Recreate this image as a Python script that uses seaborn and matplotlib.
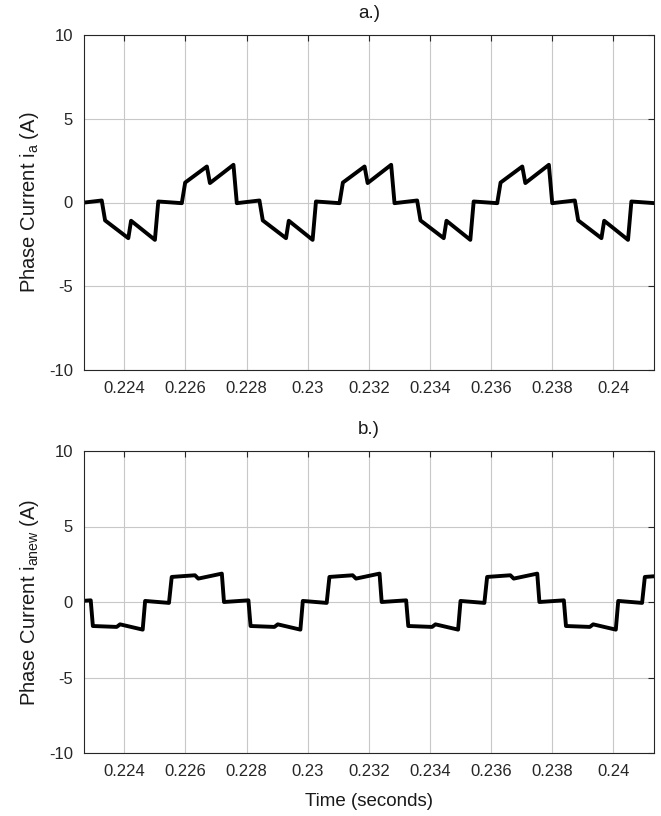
import matplotlib
matplotlib.use("Agg")
import matplotlib.pyplot as plt
import seaborn as sns
import pandas as pd

# ---- data ----
t_a = [0.22252, 0.22326, 0.22337, 0.22413, 0.22422, 0.22500, 0.22511, 0.22588, 0.22599, 0.22670, 0.22680, 0.22757, 0.22768,
       0.22842, 0.22853, 0.22929, 0.22938, 0.23016, 0.23027, 0.23104, 0.23115, 0.23186, 0.23196, 0.23273, 0.23284,
       0.23358, 0.23369, 0.23445, 0.23454, 0.23532, 0.23543, 0.23620, 0.23631, 0.23702, 0.23712, 0.23789, 0.23800,
       0.23874, 0.23885, 0.23961, 0.23970, 0.24048, 0.24059, 0.24136]
i_a = [-0.04, 0.12, -1.07, -2.13, -1.09, -2.23, 0.06, -0.04, 1.19, 2.15, 1.16, 2.25, -0.04,
       0.12, -1.07, -2.13, -1.09, -2.23, 0.06, -0.04, 1.19, 2.15, 1.16, 2.25, -0.04,
       0.12, -1.07, -2.13, -1.09, -2.23, 0.06, -0.04, 1.19, 2.15, 1.16, 2.25, -0.04,
       0.12, -1.07, -2.13, -1.09, -2.23, 0.06, -0.04]

t_b = [0.22210, 0.22290, 0.22297, 0.22375, 0.22386, 0.22460, 0.22468, 0.22546, 0.22555, 0.22631, 0.22642, 0.22719, 0.22726,
       0.22806, 0.22813, 0.22891, 0.22902, 0.22976, 0.22984, 0.23062, 0.23071, 0.23147, 0.23158, 0.23235, 0.23242,
       0.23322, 0.23329, 0.23407, 0.23418, 0.23492, 0.23500, 0.23578, 0.23587, 0.23663, 0.23674, 0.23751, 0.23758,
       0.23838, 0.23845, 0.23923, 0.23934, 0.24008, 0.24016, 0.24094, 0.24103, 0.24179]
i_b = [0.00, 0.11, -1.59, -1.65, -1.48, -1.83, 0.07, -0.06, 1.66, 1.77, 1.55, 1.88, 0.00,
       0.11, -1.59, -1.65, -1.48, -1.83, 0.07, -0.06, 1.66, 1.77, 1.55, 1.88, 0.00,
       0.11, -1.59, -1.65, -1.48, -1.83, 0.07, -0.06, 1.66, 1.77, 1.55, 1.88, 0.00,
       0.11, -1.59, -1.65, -1.48, -1.83, 0.07, -0.06, 1.66, 1.77]

x_ticks = [0.224, 0.226, 0.228, 0.230, 0.232, 0.234, 0.236, 0.238, 0.240]
x_ticklabels = ["0.224", "0.226", "0.228", "0.23", "0.232", "0.234", "0.236", "0.238", "0.24"]
y_ticks = [-10, -5, 0, 5, 10]
y_ticklabels = ["-10", "-5", "0", "5", "10"]
titles = ["a.)", "b.)"]
ylabels = [r"Phase Current i$_\mathregular{a}$ (A)", r"Phase Current i$_\mathregular{anew}$ (A)"]
xlabel = "Time (seconds)"

sns.set_style("white")
plt.rcParams["font.family"] = ["Liberation Sans", "DejaVu Sans"]
plt.rcParams["mathtext.default"] = "regular"

fig = plt.figure(figsize=(6.61, 8.16), dpi=100)
W, H = 661, 816
boxes = [(84, 35, 654, 370), (84, 451, 654, 753)]
data = [(t_a, i_a), (t_b, i_b)]

for k, ((x0, y0, x1, y1), (tt, ii)) in enumerate(zip(boxes, data)):
    ax = fig.add_axes([x0 / W, 1 - y1 / H, (x1 - x0) / W, (y1 - y0) / H])
    df = pd.DataFrame({"t": tt, "i": ii})
    sns.lineplot(data=df, x="t", y="i", ax=ax, color="black", linewidth=2.8,
                 estimator=None, sort=False)
    ax.set_xlim(0.22268, 0.24133)
    ax.set_ylim(-10, 10)
    ax.set_xticks(x_ticks)
    ax.set_xticklabels(x_ticklabels)
    ax.set_yticks(y_ticks)
    ax.set_yticklabels(y_ticklabels)
    ax.grid(True, color="#c8c8c8", linewidth=0.8)
    ax.set_axisbelow(True)
    ax.tick_params(direction="in", top=True, right=True, length=4, width=0.8,
                   labelsize=12, colors="#262626", pad=8)
    for s in ax.spines.values():
        s.set_visible(True)
        s.set_color("#262626")
        s.set_linewidth(0.8)
    ax.set_title(titles[k], fontsize=13.5, color="#1a1a1a", pad=12)
    ax.set_ylabel(ylabels[k], fontsize=14.5, color="#1a1a1a", labelpad=6)
    if k == 1:
        ax.set_xlabel(xlabel, fontsize=13.5, color="#1a1a1a", labelpad=10)
    else:
        ax.set_xlabel("")

fig.savefig("out.png", dpi=100)
